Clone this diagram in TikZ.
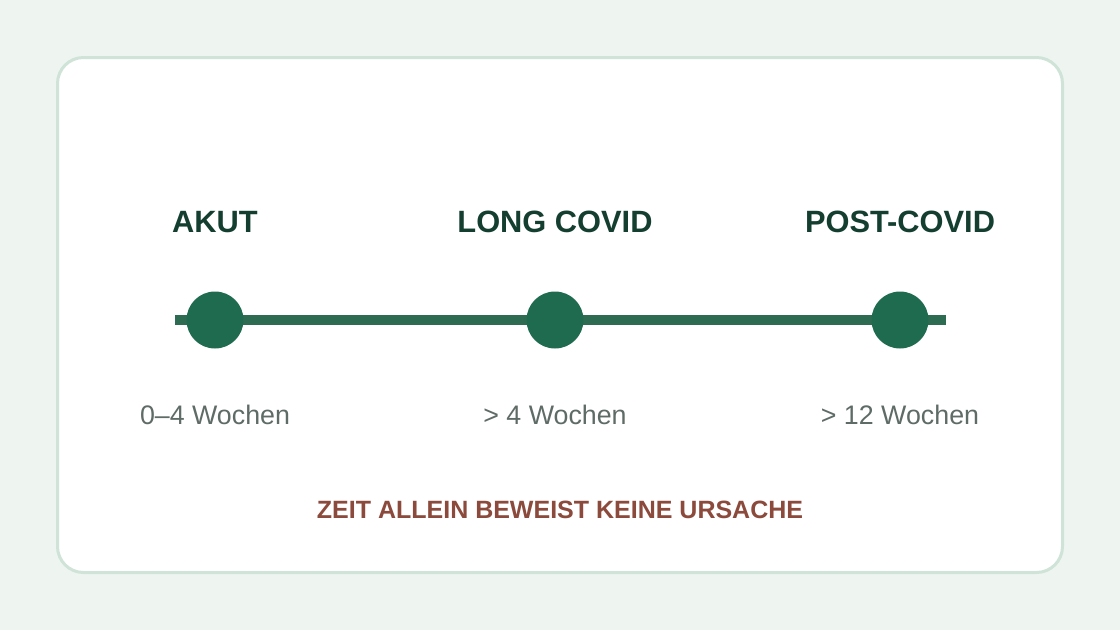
\documentclass[tikz,border=0pt]{standalone}
\usepackage{fontspec}
\setmainfont{Liberation Sans}
\definecolor{bgc}{HTML}{EEF5F1}
\definecolor{cardborder}{HTML}{CFE3D8}
\definecolor{dotc}{HTML}{1F6B4F}
\definecolor{linec}{HTML}{2E6B53}
\definecolor{titlec}{HTML}{143F30}
\definecolor{subc}{HTML}{5F6B66}
\definecolor{notec}{HTML}{8B4A3C}
\begin{document}
\begin{tikzpicture}[x=1pt,y=-1pt,
  phase/.style={font=\fontsize{30.8}{36}\selectfont\bfseries, text=titlec, inner sep=0pt},
  dur/.style={font=\fontsize{26.8}{32}\selectfont, text=subc, inner sep=0pt},
  dot/.style={circle, fill=dotc, minimum size=57pt, inner sep=0pt},
  note/.style={font=\fontsize{25}{30}\selectfont\bfseries, text=notec, inner sep=0pt}]
\fill[bgc] (0,0) rectangle (1120,630);
\useasboundingbox (0,0) rectangle (1120,630);
\draw[cardborder, line width=3pt, fill=white, rounded corners=26pt] (57.5,57.5) rectangle (1062.5,572.5);
\coordinate (ls) at (175,320);
\coordinate (le) at (946,320);
\draw[linec, line width=10pt] (ls) -- (le);
\node[dot] (d1) at (215,320) {};
\node[dot] (d2) at (555,320) {};
\node[dot] (d3) at (900,320) {};
\node[phase] (t1) at (215,222) {AKUT};
\node[phase] (t2) at (555,222) {LONG COVID};
\node[phase] (t3) at (900,222) {POST-COVID};
\node[dur] (s1) at (215,415) {0–4 Wochen};
\node[dur] (s2) at (555,415) {> 4 Wochen};
\node[dur] (s3) at (900,415) {> 12 Wochen};
\node[note] (n) at (560,510) {ZEIT ALLEIN BEWEIST KEINE URSACHE};
\end{tikzpicture}
\end{document}
